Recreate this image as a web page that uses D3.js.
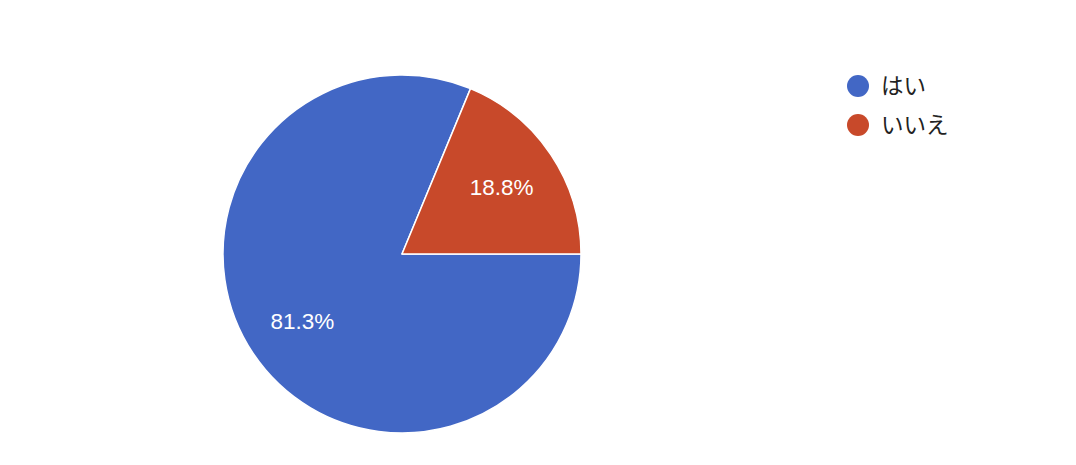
<!DOCTYPE html>
<html><head><meta charset="utf-8">
<script src="https://cdn.jsdelivr.net/npm/d3@7"></script>
<style>html,body{margin:0;padding:0;background:#fff;}</style>
</head><body>
<svg id="c" width="1076" height="465"></svg>
<script>
const categories = ["はい", "いいえ"];
const counts = [13, 3];
const colors = ["#4267c5", "#c8492a"];

const svg = d3.select("#c");
const cx = 402, cy = 254, r = 179;
const total = d3.sum(counts);
const data = categories.map((c, i) => ({name: c, value: counts[i], color: colors[i]}));
const pie = d3.pie().sort(null).value(d => d.value)
  .startAngle(Math.PI / 2).endAngle(Math.PI / 2 + 2 * Math.PI);
const arcs = pie(data);
const arc = d3.arc().innerRadius(0).outerRadius(r);
const labelArc = d3.arc().innerRadius(r * 0.67).outerRadius(r * 0.67);
const g = svg.append("g").attr("transform", `translate(${cx},${cy})`);
g.selectAll("path").data(arcs).join("path")
  .attr("d", arc).attr("fill", d => d.data.color)
  .attr("stroke", "#fff").attr("stroke-width", 1.5).attr("stroke-linejoin", "round");
g.selectAll("text").data(arcs).join("text")
  .attr("transform", d => `translate(${labelArc.centroid(d)})`)
  .attr("text-anchor", "middle").attr("dy", "0.36em")
  .attr("font-family", "Liberation Sans, Arial, sans-serif").attr("font-size", 22.5)
  .attr("fill", "#fff")
  .text(d => (d.data.value / total * 100).toFixed(1) + "%");

const leg = svg.append("g").attr("transform", "translate(858,86)");
const items = leg.selectAll("g").data(data).join("g")
  .attr("transform", (d, i) => `translate(0,${i * 39})`);
items.append("circle").attr("r", 11).attr("fill", d => d.color);
items.append("text").attr("x", 23).attr("dy", "0.36em")
  .attr("font-family", "Noto Sans CJK JP, sans-serif").attr("font-size", 22.5)
  .attr("fill", "#222").text(d => d.name);
</script>
</body></html>
